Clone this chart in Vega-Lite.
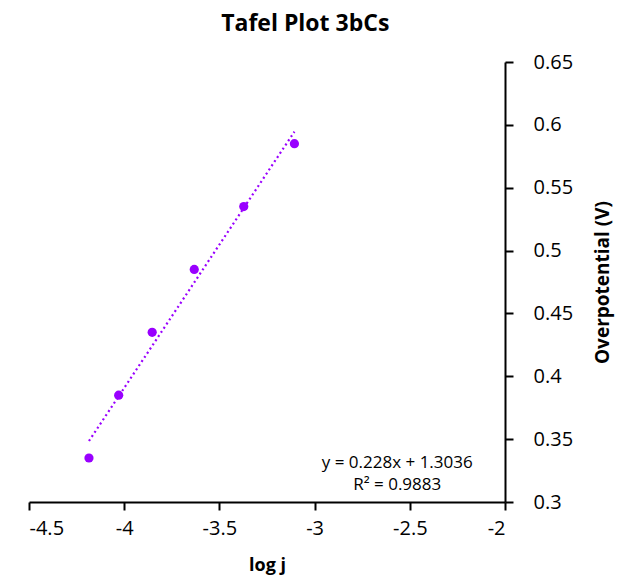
{
  "$schema": "https://vega.github.io/schema/vega-lite/v6.json",
  "width": 476,
  "height": 440,
  "autosize": "none",
  "padding": {"left": 29, "top": 62, "right": 112, "bottom": 75},
  "config": {
    "view": {"stroke": null},
    "font": "Open Sans",
    "axis": {"grid": false, "domainColor": "#000", "domainWidth": 2, "tickColor": "#000", "tickWidth": 2, "labelColor": "#000", "titleColor": "#000", "labelFont": "Open Sans", "titleFont": "Open Sans", "labelExpr": "'' + datum.value"}
  },
  "title": {"text": "Tafel Plot 3bCs", "fontSize": 23, "fontWeight": "bold", "font": "Open Sans", "frame": "bounds", "anchor": "middle", "offset": 16, "dx": -15, "color": "#000"},
  "data": {"values": [
    {"logj": -4.185, "eta": 0.335},
    {"logj": -4.029, "eta": 0.385},
    {"logj": -3.853, "eta": 0.435},
    {"logj": -3.632, "eta": 0.485},
    {"logj": -3.372, "eta": 0.535},
    {"logj": -3.106, "eta": 0.585}
  ]},
  "layer": [
    {
      "transform": [{"regression": "eta", "on": "logj"}],
      "mark": {"type": "line", "color": "#9900FF", "strokeWidth": 2.2, "strokeDash": [2, 3]},
      "encoding": {
        "x": {"field": "logj", "type": "quantitative", "scale": {"domain": [-4.5, -2], "nice": false, "zero": false},
          "axis": {"title": "log j", "values": [-4.5, -4, -3.5, -3, -2.5, -2], "tickSize": 8, "labelFontSize": 20, "labelPadding": 8, "titleFontSize": 18, "titleFontWeight": "bold", "titlePadding": 18}},
        "y": {"field": "eta", "type": "quantitative", "scale": {"domain": [0.3, 0.65], "nice": false, "zero": false},
          "axis": {"title": "Overpotential (V)", "orient": "right", "titleAngle": 270, "values": [0.3, 0.35, 0.4, 0.45, 0.5, 0.55, 0.6, 0.65], "tickSize": 8, "labelFontSize": 20, "labelPadding": 20, "titleFontSize": 19, "titleFontWeight": "bold", "titlePadding": 40}}
      }
    },
    {
      "mark": {"type": "circle", "color": "#9900FF", "opacity": 1, "size": 85},
      "encoding": {
        "x": {"field": "logj", "type": "quantitative"},
        "y": {"field": "eta", "type": "quantitative"}
      }
    },
    {
      "data": {"values": [{"label": "y = 0.228x + 1.3036\nR² = 0.9883"}]},
      "mark": {"type": "text", "fontSize": 17, "font": "Open Sans", "color": "#000", "align": "center", "baseline": "middle", "lineBreak": "\n", "lineHeight": 22},
      "encoding": {
        "x": {"datum": -2.566, "type": "quantitative"},
        "y": {"datum": 0.331, "type": "quantitative"},
        "text": {"field": "label"}
      }
    }
  ]
}
